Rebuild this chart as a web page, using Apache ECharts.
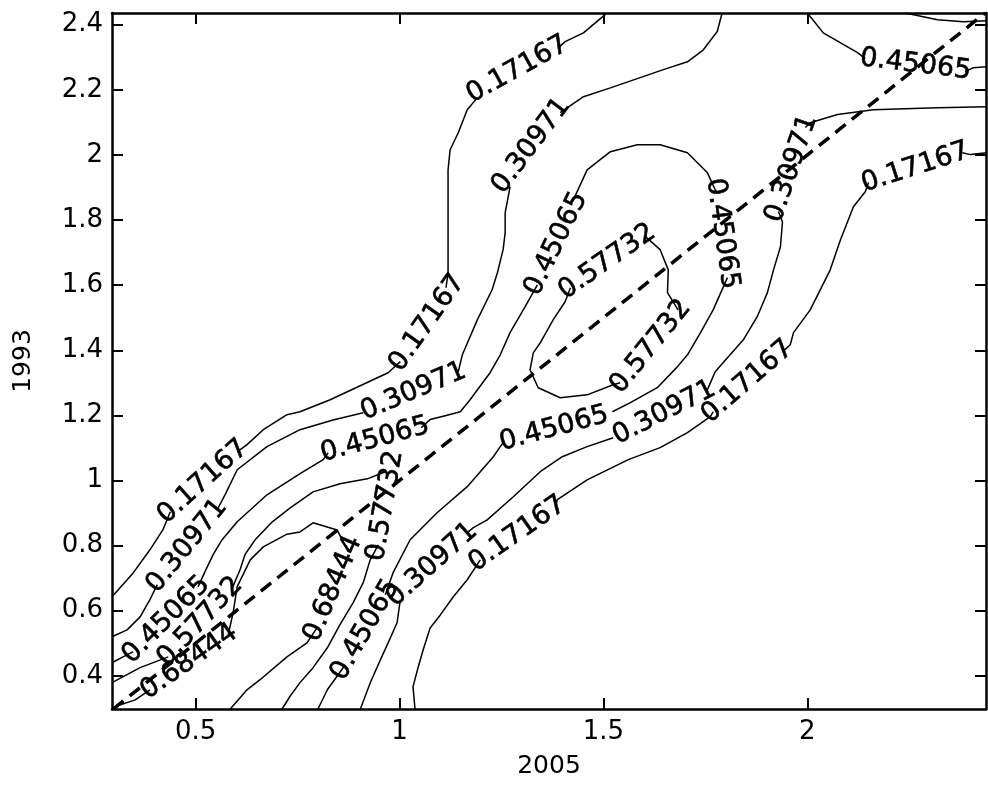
<!DOCTYPE html>
<html><head><meta charset="utf-8">
<script src="https://cdn.jsdelivr.net/npm/echarts@6/dist/echarts.min.js"></script>
<style>html,body{margin:0;padding:0;background:#fff}#c{width:988px;height:787px}</style>
</head><body><div id="c"></div>
<script>
// axis ranges and ticks
const xRange = [0.295, 2.438];
const yRange = [0.298, 2.436];
const xTicks = [0.5, 1, 1.5, 2];
const xTickLabels = ['0.5', '1', '1.5', '2'];
const yTicks = [0.4, 0.6, 0.8, 1, 1.2, 1.4, 1.6, 1.8, 2, 2.2, 2.4];
const yTickLabels = ['0.4', '0.6', '0.8', '1', '1.2', '1.4', '1.6', '1.8', '2', '2.2', '2.4'];
const xName = '2005';
const yName = '1993';
const levels = ['0.17167', '0.30971', '0.45065', '0.57732', '0.68444'];

// contour polylines (null = gap where a label sits)
const c17a = [[0.295,0.643],[0.347,0.716],[0.388,0.787],[0.420,0.849],[0.438,0.904],null,[0.602,1.088],[0.626,1.110],[0.666,1.156],[0.724,1.202],[0.756,1.211],[0.830,1.248],[0.972,1.331],[1.002,1.365],null,[1.114,1.592],[1.119,1.638],[1.119,1.761],[1.119,1.954],[1.124,2.016],[1.144,2.068],[1.166,2.139],[1.191,2.176],null,[1.389,2.329],[1.406,2.348],[1.451,2.375],[1.504,2.431],[1.509,2.436]];
const c17b = [[1.038,0.298],[1.033,0.366],[1.046,0.428],[1.058,0.480],[1.075,0.547],[1.100,0.587],[1.132,0.643],[1.166,0.695],[1.198,0.756],null,[1.382,0.916],[1.387,0.941],[1.460,1.002],[1.561,1.064],[1.639,1.101],[1.706,1.147],[1.762,1.196],[1.769,1.211],null,[1.939,1.395],[1.958,1.417],[1.966,1.454],[2.007,1.524],[2.056,1.647],[2.081,1.739],[2.113,1.841],[2.142,1.887],[2.150,1.915],null,[2.380,2.007],[2.400,2.001],[2.439,2.007]];
const c30a = [[0.295,0.520],[0.332,0.541],[0.364,0.581],[0.388,0.634],[0.406,0.680],null,[0.553,0.910],[0.572,0.956],[0.602,1.033],[0.675,1.104],[0.756,1.156],[0.837,1.186],[0.911,1.208],null,[1.144,1.334],[1.154,1.386],[1.191,1.494],[1.227,1.586],[1.240,1.638],[1.254,1.709],[1.259,1.761],[1.259,1.822],[1.271,1.902],null,[1.394,2.130],[1.451,2.179],[1.517,2.206],[1.647,2.262],[1.706,2.286],[1.745,2.323],[1.779,2.379],[1.791,2.436]];
const c30b = [[0.904,0.298],[0.928,0.378],[0.953,0.449],[0.972,0.501],[0.994,0.563],[1.002,0.634],null,[1.166,0.840],[1.181,0.855],[1.215,0.879],[1.279,0.950],[1.345,1.027],[1.399,1.073],[1.460,1.104],[1.524,1.131],null,[1.755,1.279],[1.774,1.334],[1.804,1.377],[1.843,1.432],[1.877,1.503],[1.902,1.577],[1.917,1.647],[1.934,1.718],[1.939,1.795],[1.929,1.826],null,[1.995,2.084],[2.007,2.099],[2.074,2.124],[2.162,2.139],[2.319,2.145],[2.439,2.148]];
const c45a = [[0.295,0.440],[0.322,0.458],[0.347,0.474],null,[0.506,0.673],[0.523,0.720],[0.543,0.772],[0.565,0.818],[0.602,0.873],[0.675,0.956],[0.756,1.021],[0.813,1.064],[0.825,1.085],null,[1.053,1.162],[1.075,1.187],[1.112,1.199],[1.149,1.211],[1.173,1.248],[1.222,1.331],[1.247,1.386],[1.271,1.454],[1.308,1.534],[1.338,1.601],null,[1.424,1.856],[1.460,1.954],[1.517,2.010],[1.583,2.031],[1.639,2.031],[1.706,2.007],[1.755,1.945],[1.774,1.893],[1.779,1.884],null,[1.804,1.623],[1.769,1.524],[1.738,1.454],[1.706,1.386],[1.681,1.349],[1.632,1.285],[1.566,1.239],[1.522,1.211],null,[1.254,1.116],[1.247,1.104],[1.230,1.073],[1.166,0.981],[1.092,0.901],[1.026,0.818],[0.984,0.716],[0.965,0.649],null,[0.867,0.434],[0.823,0.357],[0.800,0.298]];
const c45b = [[2.000,2.436],[2.039,2.375],[2.123,2.314],[2.142,2.296],null,[2.387,2.256],[2.407,2.268],[2.439,2.271]];
const c57a = [[0.295,0.379],[0.364,0.425],[0.433,0.458],null,[0.590,0.670],[0.609,0.726],[0.621,0.772],[0.646,0.818],[0.688,0.873],[0.732,0.916],[0.788,0.965],[0.854,0.990],[0.921,1.005],[0.965,1.027],null,[0.948,0.802],[0.928,0.756],[0.911,0.686],[0.886,0.624],[0.854,0.557],[0.823,0.486],[0.788,0.425],[0.756,0.379],[0.732,0.338],[0.712,0.298]];
const c57b = [[1.603,1.749],[1.639,1.709],[1.659,1.647],[1.657,1.577],[1.683,1.524],null,[1.541,1.300],[1.524,1.294],[1.460,1.263],[1.394,1.254],[1.340,1.285],[1.320,1.340],[1.328,1.392],[1.345,1.423],[1.377,1.494],[1.406,1.549],[1.419,1.592]];
const c57c = [[2.240,2.436],[2.319,2.415],[2.383,2.409],[2.439,2.412]];
const c68 = [[0.585,0.298],[0.626,0.357],[0.658,0.388],[0.724,0.458],[0.773,0.501],[0.798,0.548],null,[0.874,0.781],[0.847,0.848],[0.788,0.870],[0.756,0.842],[0.724,0.835],[0.666,0.796],[0.634,0.756],[0.602,0.674],[0.592,0.594],[0.580,0.526],null,[0.388,0.357],[0.352,0.326],[0.308,0.308],[0.296,0.300]];

// contour labels: [x, y, text angle in degrees]
const labels17 = [[0.518,0.996,42],[1.068,1.484,55],[1.289,2.262,29],[1.289,0.836,35],[1.853,1.303,41],[2.265,1.961,18]];
const labels30 = [[0.479,0.799,51],[1.034,1.273,23],[1.323,2.028,53],[1.080,0.741,42],[1.649,1.208,27],[1.961,1.958,71]];
const labels45 = [[0.428,0.572,45],[0.940,1.125,15],[1.384,1.727,64],[1.791,1.758,-82],[1.379,1.159,15],[0.916,0.541,60],[2.265,2.277,-7]];
const labels57 = [[0.511,0.566,47],[0.965,0.922,80],[1.509,1.672,35],[1.616,1.411,51]];
const labels68 = [[0.837,0.667,67],[0.484,0.443,35]];

const contourSets = [
  {level: 0, lines: [c17a, c17b], labels: labels17},
  {level: 1, lines: [c30a, c30b], labels: labels30},
  {level: 2, lines: [c45a, c45b], labels: labels45},
  {level: 3, lines: [c57a, c57b, c57c], labels: labels57},
  {level: 4, lines: [c68], labels: labels68}
];

function segments(arr) {
  const segs = []; let cur = [];
  arr.forEach(p => { if (p === null) { if (cur.length) segs.push(cur); cur = []; } else cur.push(p); });
  if (cur.length) segs.push(cur);
  return segs;
}

const FONT = 'DejaVu Sans';
const series = [];
contourSets.forEach(cs => {
  cs.lines.forEach(line => segments(line).forEach(seg => {
    series.push({type: 'line', data: seg, symbol: 'none', silent: true, animation: false, z: 2,
      lineStyle: {color: '#000', width: 1.5}});
  }));
});
const labelItems = [];
contourSets.forEach(cs => cs.labels.forEach(l => labelItems.push({
  value: [l[0], l[1]], name: levels[cs.level], label: {rotate: l[2]}
})));
series.push({type: 'scatter', data: labelItems, symbol: 'circle', symbolSize: 1, silent: true, animation: false, z: 3,
  itemStyle: {color: 'rgba(0,0,0,0)'},
  label: {show: true, position: 'inside', formatter: '{b}', color: '#000', opacity: 1,
    textBorderColor: '#000', textBorderWidth: 0.6, fontSize: 27, fontFamily: FONT}});
series.push({type: 'line', data: [[yRange[0], yRange[0]], [yRange[1], yRange[1]]], symbol: 'none', silent: true,
  animation: false, z: 4, lineStyle: {color: '#000', width: 3.5, type: [13, 8]}});

const tickStyle = {show: true, inside: true, length: 11, lineStyle: {color: '#000', width: 2}};
const lineStyleAx = {show: true, onZero: false, lineStyle: {color: '#000', width: 2.5}};
const labelStyle = {color: '#000', fontSize: 26, fontFamily: FONT};

const option = {
  backgroundColor: '#fff',
  animation: false,
  grid: {left: 112, right: 2, top: 13, bottom: 78},
  xAxis: [
    {type: 'value', min: xRange[0], max: xRange[1], position: 'bottom', axisLine: lineStyleAx,
     axisTick: Object.assign({customValues: xTicks}, tickStyle),
     axisLabel: Object.assign({customValues: xTicks, margin: 10, formatter: v => xTickLabels[xTicks.indexOf(v)] ?? ''}, labelStyle),
     splitLine: {show: false}, name: xName, nameLocation: 'middle', nameGap: 45,
     nameTextStyle: {color: '#000', fontSize: 25, fontFamily: FONT}},
    {type: 'value', min: xRange[0], max: xRange[1], position: 'top', axisLine: lineStyleAx,
     axisTick: Object.assign({customValues: xTicks}, tickStyle), axisLabel: {show: false}, splitLine: {show: false}}
  ],
  yAxis: [
    {type: 'value', min: yRange[0], max: yRange[1], position: 'left', axisLine: lineStyleAx,
     axisTick: Object.assign({customValues: yTicks}, tickStyle),
     axisLabel: Object.assign({customValues: yTicks, margin: 9, formatter: v => yTickLabels[yTicks.indexOf(v)] ?? ''}, labelStyle),
     splitLine: {show: false}, name: yName, nameLocation: 'middle', nameGap: 76, nameRotate: 90,
     nameTextStyle: {color: '#000', fontSize: 25, fontFamily: FONT}},
    {type: 'value', min: yRange[0], max: yRange[1], position: 'right', axisLine: lineStyleAx,
     axisTick: Object.assign({customValues: yTicks}, tickStyle), axisLabel: {show: false}, splitLine: {show: false}}
  ],
  series: series
};
const chart = echarts.init(document.getElementById('c'));
chart.setOption(option);
</script></body></html>
